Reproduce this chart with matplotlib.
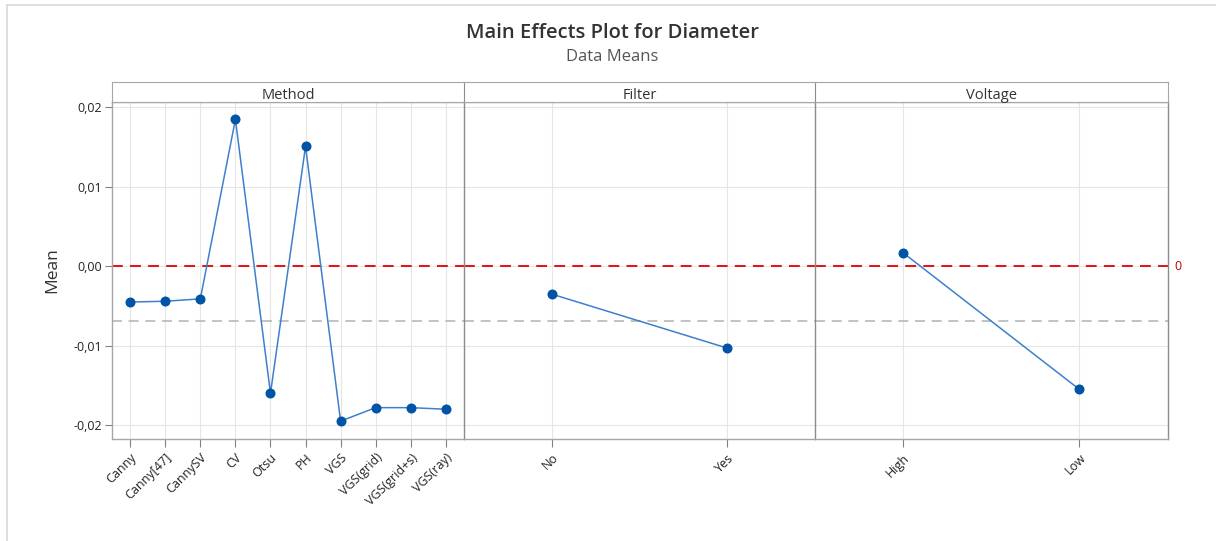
import matplotlib.pyplot as plt
from matplotlib.lines import Line2D
import numpy as np

plt.rcParams['font.family'] = ['Open Sans', 'DejaVu Sans']

# factor levels and their data means
method_levels = ['Canny', 'Canny[47]', 'CannySV', 'CV', 'Otsu', 'PH', 'VGS',
                 'VGS(grid)', 'VGS(grid+s)', 'VGS(ray)']
method_means = [-0.0045, -0.0044, -0.0041, 0.0185, -0.0160, 0.0151, -0.0195,
                -0.0178, -0.0178, -0.0180]
filter_levels = ['No', 'Yes']
filter_means = [-0.0035, -0.0103]
voltage_levels = ['High', 'Low']
voltage_means = [0.0017, -0.0155]
grand_mean = -0.0069
reference = 0.0

panels = [('Method', method_levels, method_means),
          ('Filter', filter_levels, filter_means),
          ('Voltage', voltage_levels, voltage_means)]

W, H = 1216, 541
fig = plt.figure(figsize=(W / 100, H / 100), dpi=100)

# pixel edges of each panel
edges = [(112, 464), (464, 815), (815, 1167.5)]
top_px, strip_top_px, bottom_px = 102, 82, 438.7
y_lo, y_hi = -0.02171, 0.02069
yticks = [-0.02, -0.01, 0.0, 0.01, 0.02]

frame_col = '#a6a6a6'
grid_col = '#e6e6e6'
line_col = '#3d80cc'
mark_col = '#0054a6'

for i, ((name, levels, means), (x0, x1)) in enumerate(zip(panels, edges)):
    ax = fig.add_axes([x0 / W, 1 - bottom_px / H, (x1 - x0) / W, (bottom_px - top_px) / H])
    x = np.arange(len(levels))
    pad = 0.52 if len(levels) > 2 else 0.5
    ax.set_xlim(-pad, len(levels) - 1 + pad)
    ax.set_ylim(y_lo, y_hi)
    ax.set_yticks(yticks)
    ax.set_xticks(x)
    ax.set_xticklabels(levels, rotation=45, ha='right', va='top',
                       rotation_mode='anchor', fontsize=9, color='#222222')
    ax.grid(True, color=grid_col, lw=0.8)
    ax.set_axisbelow(True)
    ax.axhline(reference, color='#e00000', ls=(0, (6, 4)), lw=1.3, zorder=2)
    ax.axhline(grand_mean, color='#b8b8b8', ls=(0, (6, 4)), lw=1.2, zorder=2)
    ax.plot(x, means, color=line_col, lw=1.1, zorder=3)
    ax.plot(x, means, 'o', color=mark_col, ms=6.2, zorder=4)
    ax.tick_params(axis='x', length=6, color='#808080', pad=3)
    if i == 0:
        ax.set_yticklabels([f'{v:.2f}'.replace('.', ',') for v in yticks],
                           fontsize=9, color='#222222')
        ax.tick_params(axis='y', length=5, color='#808080', pad=2)
        ax.set_ylabel('Mean', fontsize=12.5, fontweight='medium',
                      color='#333333', labelpad=10)
    else:
        ax.tick_params(axis='y', left=False, labelleft=False)
    for side in ['left', 'right', 'top', 'bottom']:
        ax.spines[side].set_color(frame_col)
        ax.spines[side].set_linewidth(1.0)
    if i < 2:
        ax.spines['right'].set_visible(False)
    if i > 0:
        ax.spines['left'].set_color('#8c8c8c')
    if i == 2:
        ax.spines['right'].set_color('#8c8c8c')
        ax.text(1.03, reference, '0', transform=ax.get_yaxis_transform(),
                color='#c00000', fontsize=9, va='center', ha='center')

    # facet strip above each panel
    sax = fig.add_axes([x0 / W, 1 - top_px / H, (x1 - x0) / W, (top_px - strip_top_px) / H])
    sax.set_xticks([])
    sax.set_yticks([])
    for side in ['left', 'right', 'top', 'bottom']:
        sax.spines[side].set_color(frame_col)
    if i < 2:
        sax.spines['right'].set_visible(False)
    if i > 0:
        sax.spines['left'].set_color('#8c8c8c')
    sax.text(0.5, 0.32, name, ha='center', va='center', fontsize=10.5,
             color='#333333', transform=sax.transAxes)

fig.text(612 / W, 1 - 33 / H, 'Main Effects Plot for Diameter', ha='center',
         va='center', fontsize=14.5, fontweight='semibold', color='#333333')
fig.text(612 / W, 1 - 57 / H, 'Data Means', ha='center', va='center',
         fontsize=12, color='#555555')

# light outer border on the left and top
fig.add_artist(Line2D([7 / W, 7 / W], [0, 1 - 4.5 / H], color='#d9d9d9', lw=1.2))
fig.add_artist(Line2D([7 / W, 1], [1 - 4.5 / H, 1 - 4.5 / H], color='#d9d9d9', lw=1.2))

fig.savefig('out.png', dpi=100)
